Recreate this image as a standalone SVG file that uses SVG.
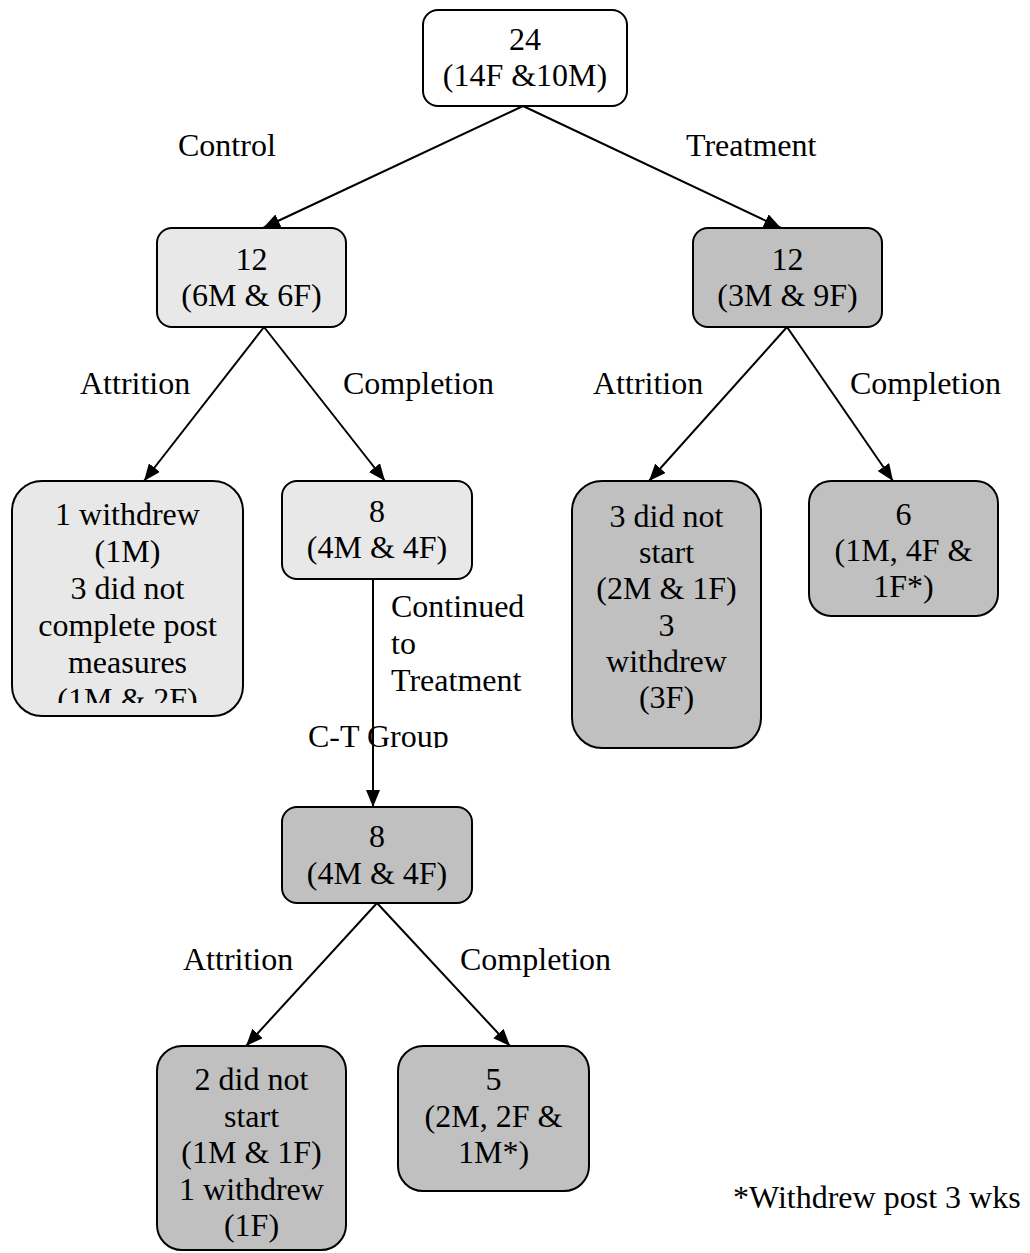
<svg xmlns="http://www.w3.org/2000/svg" width="1030" height="1253" viewBox="0 0 1030 1253">
<style>
text{font-family:"Liberation Serif","Times New Roman",serif;font-size:32px;fill:#000}
.c{text-anchor:middle}
.box{stroke:#000;stroke-width:2}
.w{fill:#fff}
.l{fill:#e8e8e8}
.d{fill:#c0c0c0}
.edge{stroke:#000;stroke-width:2;fill:none;marker-end:url(#ah)}
</style>
<defs>
<marker id="ah" markerUnits="userSpaceOnUse" markerWidth="18" markerHeight="14" refX="17" refY="7" orient="auto">
<path d="M0,0 L17,7 L0,14 Z" fill="#000"/>
</marker>
<clipPath id="clipA"><rect x="12" y="481" width="231" height="222"/></clipPath>
<clipPath id="clipCT"><rect x="290" y="700" width="180" height="48"/></clipPath>
</defs>
<g id="connectors">
<line class="edge" x1="523" y1="106" x2="263" y2="228"/>
<line class="edge" x1="523" y1="106" x2="781" y2="228"/>
<line class="edge" x1="264" y1="327" x2="144" y2="481"/>
<line class="edge" x1="264" y1="327" x2="385" y2="481"/>
<line class="edge" x1="787" y1="327" x2="649" y2="481"/>
<line class="edge" x1="787" y1="327" x2="893" y2="481"/>
<line class="edge" x1="373" y1="579" x2="373" y2="807"/>
<line class="edge" x1="377" y1="903" x2="246" y2="1046"/>
<line class="edge" x1="377" y1="903" x2="510" y2="1046"/>
</g>
<g id="labels">
<text x="178" y="156">Control</text>
<text x="686" y="156">Treatment</text>
<text x="80" y="394">Attrition</text>
<text x="343" y="394">Completion</text>
<text x="593" y="394">Attrition</text>
<text x="850" y="394">Completion</text>
<text x="391" y="617">Continued</text>
<text x="391" y="654">to</text>
<text x="391" y="691">Treatment</text>
<text x="308" y="747" clip-path="url(#clipCT)">C-T Group</text>
<text x="183" y="970">Attrition</text>
<text x="460" y="970">Completion</text>
<text x="733" y="1208">*Withdrew post 3 wks</text>
</g>
<g id="n-root">
<rect class="box w" x="423" y="10" width="204" height="96" rx="15"/>
<text class="c" x="525" y="50">24</text>
<text class="c" x="525" y="86">(14F &amp;10M)</text>
</g>
<g id="n-control">
<rect class="box l" x="157" y="228" width="189" height="99" rx="15"/>
<text class="c" x="251.5" y="270">12</text>
<text class="c" x="251.5" y="306">(6M &amp; 6F)</text>
</g>
<g id="n-treatment">
<rect class="box d" x="693" y="228" width="189" height="99" rx="15"/>
<text class="c" x="787.5" y="270">12</text>
<text class="c" x="787.5" y="306">(3M &amp; 9F)</text>
</g>
<g id="n-c-attrition">
<rect class="box l" x="12" y="481" width="231" height="235" rx="30"/>
<g clip-path="url(#clipA)">
<text class="c" x="127.5" y="525">1 withdrew</text>
<text class="c" x="127.5" y="562">(1M)</text>
<text class="c" x="127.5" y="599">3 did not</text>
<text class="c" x="127.5" y="636">complete post</text>
<text class="c" x="127.5" y="673">measures</text>
<text class="c" x="127.5" y="710">(1M &amp; 2F)</text>
</g>
</g>
<g id="n-c-completion">
<rect class="box l" x="282" y="481" width="190" height="98" rx="15"/>
<text class="c" x="377" y="522">8</text>
<text class="c" x="377" y="558">(4M &amp; 4F)</text>
</g>
<g id="n-t-attrition">
<rect class="box d" x="572" y="481" width="189" height="267" rx="30"/>
<text class="c" x="666.5" y="527">3 did not</text>
<text class="c" x="666.5" y="563">start</text>
<text class="c" x="666.5" y="599">(2M &amp; 1F)</text>
<text class="c" x="666.5" y="636">3</text>
<text class="c" x="666.5" y="672">withdrew</text>
<text class="c" x="666.5" y="708">(3F)</text>
</g>
<g id="n-t-completion">
<rect class="box d" x="809" y="481" width="189" height="135" rx="22"/>
<text class="c" x="903.5" y="525">6</text>
<text class="c" x="903.5" y="561">(1M, 4F &amp;</text>
<text class="c" x="903.5" y="597">1F*)</text>
</g>
<g id="n-ct">
<rect class="box d" x="282" y="807" width="190" height="96" rx="15"/>
<text class="c" x="377" y="847">8</text>
<text class="c" x="377" y="884">(4M &amp; 4F)</text>
</g>
<g id="n-ct-attrition">
<rect class="box d" x="157" y="1046" width="189" height="204" rx="25"/>
<text class="c" x="251.5" y="1090">2 did not</text>
<text class="c" x="251.5" y="1127">start</text>
<text class="c" x="251.5" y="1163">(1M &amp; 1F)</text>
<text class="c" x="251.5" y="1200">1 withdrew</text>
<text class="c" x="251.5" y="1236">(1F)</text>
</g>
<g id="n-ct-completion">
<rect class="box d" x="398" y="1046" width="191" height="145" rx="25"/>
<text class="c" x="493.5" y="1090">5</text>
<text class="c" x="493.5" y="1127">(2M, 2F &amp;</text>
<text class="c" x="493.5" y="1163">1M*)</text>
</g>
</svg>
